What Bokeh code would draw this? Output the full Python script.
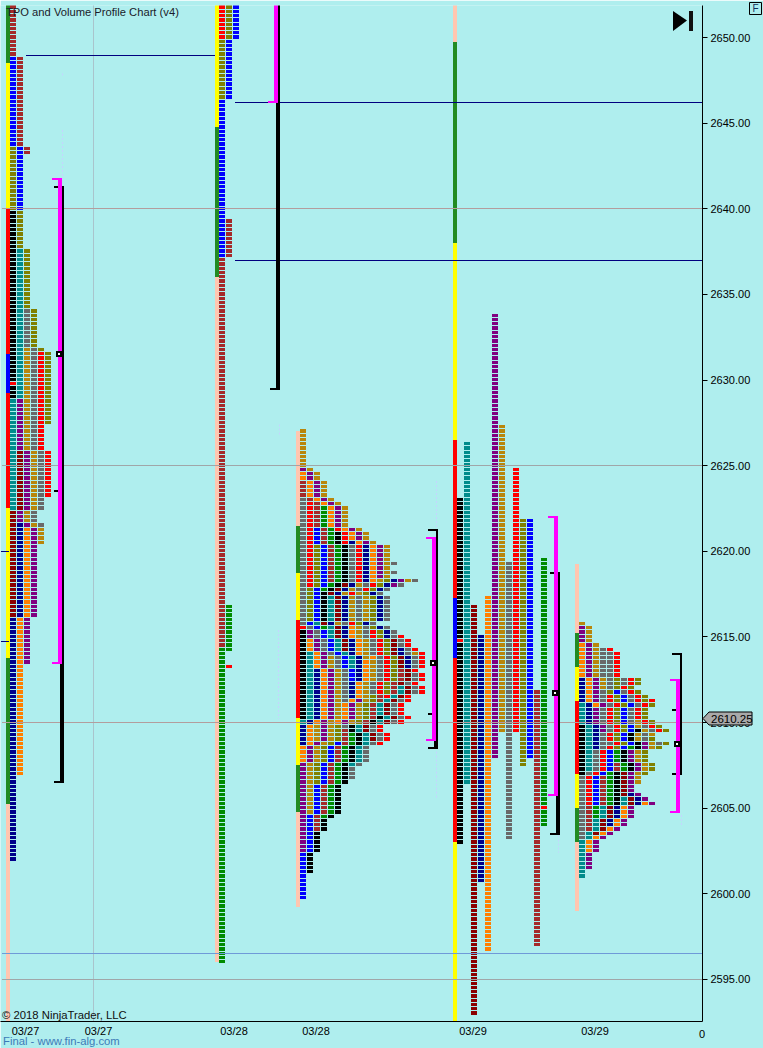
from bokeh.plotting import figure
from bokeh.layouts import column
from bokeh.models import (Range1d, FixedTicker, NumeralTickFormatter, Label)
from bokeh.embed import file_html
from bokeh.resources import INLINE

BG = "#afeeee"
COL = dict(p="#800080", g="#b8860b", o="#ff7f00", b="#a52a2a", y="#696969", r="#ff0000", B="#0000ff",
           n="#00008b", v="#808000", k="#000000", t="#008b8b", d="#8b0000", G="#008b00",
           P="#ffc6b0", F="#228b22", Y="#ffff00")
TICK = 0.25

# opening-range bars: (colour, high, low)
BAR_1 = [("F", 2652.5, 2648.5), ("Y", 2648.5, 2640), ("r", 2640, 2631.5), ("B", 2631.5, 2629.25), ("r", 2629.25, 2622.5),
         ("Y", 2622.5, 2613.75), ("F", 2613.75, 2605.25), ("P", 2605.25, 2590)]
BAR_2 = [("Y", 2652.5, 2644.75), ("F", 2644.75, 2636), ("P", 2636, 2596)]
BAR_3 = [("P", 2627, 2621.5), ("F", 2621.5, 2618.75), ("Y", 2618.75, 2616), ("r", 2616, 2610.25), ("Y", 2610.25, 2607.5),
         ("F", 2607.5, 2604.75), ("P", 2604.75, 2599.25)]
BAR_4 = [("P", 2652.5, 2649.75), ("F", 2649.75, 2638), ("Y", 2638, 2626.5), ("r", 2626.5, 2617.25), ("B", 2617.25, 2613.75),
         ("r", 2613.75, 2603), ("Y", 2603, 2590)]
BAR_5 = [("P", 2619.25, 2615.25), ("F", 2615.25, 2613.25), ("Y", 2613.25, 2611.25), ("r", 2611.25, 2607), ("Y", 2607, 2605),
         ("F", 2605, 2603), ("P", 2603, 2599)]

# tall profiles: per column, runs of (letter, high price, low price)
COLS_1 = [
    [("b", 2651.75, 2649), ("B", 2648.75, 2643.75), ("v", 2643.5, 2640), ("k", 2639.75, 2630), ("r", 2629.75, 2629.75),
     ("k", 2629.5, 2629), ("t", 2628.75, 2622.5), ("d", 2622.25, 2616.25), ("n", 2616, 2602)],
    [("b", 2648.75, 2643.75), ("B", 2643.5, 2640), ("v", 2639.75, 2637.75), ("t", 2637.5, 2629), ("p", 2628.75, 2626),
     ("d", 2625.75, 2622.5), ("p", 2622.25, 2621.75), ("n", 2621.5, 2616.25), ("o", 2616, 2607)],
    [("b", 2643.5, 2643.25), ("v", 2637.5, 2634.25), ("y", 2634, 2632), ("g", 2631.75, 2626), ("p", 2625.75, 2622.5),
     ("g", 2622.25, 2621.75), ("p", 2621.5, 2621.5), ("o", 2621.25, 2616.25), ("p", 2616, 2613.5)],
    [("v", 2634, 2632), ("y", 2631.75, 2626), ("g", 2625.75, 2622.5), ("y", 2622.25, 2621.75), ("g", 2621.5, 2621.5),
     ("p", 2621.25, 2616.25)],
    [("v", 2631.75, 2631.75), ("r", 2631.5, 2626), ("y", 2625.75, 2622.5), ("y", 2621.5, 2621.5), ("g", 2621.25, 2620.5)],
    [("v", 2631.5, 2627.5), ("r", 2625.75, 2623.25)],
]
COLS_2 = [
    [("r", 2651.75, 2650), ("v", 2649.75, 2646.5), ("B", 2646.25, 2637.25), ("b", 2637, 2614.5), ("G", 2614.25, 2596)],
    [("v", 2651.75, 2650), ("B", 2649.75, 2646.5), ("b", 2639.25, 2637.25), ("G", 2616.75, 2614.25), ("r", 2613.25, 2613.25)],
    [("B", 2651.75, 2650)],
]
COLS_4 = [
    [("k", 2623, 2615), ("r", 2614.75, 2614.75), ("k", 2614.5, 2603)],
    [("t", 2626.25, 2606.5)],
    [("d", 2616.75, 2593)],
    [("n", 2615, 2600.75)],
    [("o", 2617.25, 2596.75)],
    [("p", 2633.75, 2608)],
    [("g", 2627.25, 2609.5)],
    [("y", 2619.25, 2603.25)],
    [("r", 2624.75, 2609.5)],
    [("v", 2621.75, 2607.5)],
    [("B", 2621.75, 2608)],
    [("b", 2611.75, 2597)],
    [("G", 2619.5, 2605.25), ("r", 2605, 2605), ("G", 2604.75, 2604)],
]

# dense profiles: one string per price row, one letter per time column
ROWS_3_TOP = 2627.0
ROWS_3 = ["g"] * 9 + ["pg", "opg", "opg"] + ["bopg"] * 4 + ["ybopg", "yrbopg"] + ["yrbGopg"] * 5 + ["yrBbGropg"] + \
    ["yrBbGkropg"] * 2 + ["yrBbGkrnopg"] + \
    ["yrvBbGkyrnopg"] * 4 + ["yrvBbGkyrnopgy", "yrvBbGkyrnopg", "yrvBbGkyrnopgy", "yrvBbGkyrnopg"] + \
    ["yrvBbGkyrnogvnpgy", "yrvBGkdngyrvnpy", "yvBGkdngyrvny", "yvBkdngrgvny"] + ["yvBktdngygvny"] * 6 + \
    ["yBtdngyrvny", "ryBGtdnogyvny", "kpyBtdnogyrvny", "kpyBtdnogyrvnyr", "kopyBtdnogyrvdyr", "kopyBtdnogyrvdyr",
     "kopyBtdnogyrvdnyr", "ktopyBtnogyrvdnygr", "ktopgyBtngoyrvdnyr", "ktopgyBtnogyrvdnyr", "ktopgyBtnogyrvdnyr",
     "ktnopgyBnogyrvbdr", "ktnopgyBnogyrvbdyr", "ktnopgyBnogyrvbdyr", "ktnopgynogyrvbdyr", "ktnopgynogyrvbtdyr",
     "ktnopgynogyrvbtdyr", "ktnopgynogvbrtdr", "ktnopgyopgvbtdyr", "ktnopgopgvbtdyr", "ktnopgopgvbtdyr",
     "ktnopgopgvbtdyr", "ktnopgopgvbktdyr", "tnopgopgvbktdyr", "nogpgvyktdyr", "nogpgvbktdyr", "nogpgvbGktdyr",
     "nogpgvbGktdyr", "nopgvBbGktyr"] + ["opgvBbGkty"] * 4 + ["pgvBbGkty"] + ["pgvBbGky"] * 3 + ["pgvBbGk"] + \
    ["pgBbGk"] * 7 + ["pBbGk"] + ["pBbk"] * 3 + ["pBk"] * 5 + ["Bk"] * 5 + ["B"] * 6

ROWS_5_TOP = 2615.75
ROWS_5 = ["g"] + ["pg"] * 4 + ["opg", "opgyr"] + ["opgyyr"] * 6 + ["nopgyvyrv", "nopgyvyrv", "nopgyvrv", "nopyvByrv",
    "nopyrvByrv", "nopyrvByrvr", "tnopyrvByrv", "tnpyrvByrv", "tnpyrvByrv", "tnpyrvByrv", "tnpyrvBygrv",
    "ktnpyrvBgyrv", "ktnpyrvBkgyrv", "ktnyrvBkgyg", "ktnyrvBkgyv", "ktnyyrvBkpgyv", "ktnyrvBGkpgv",
    "ktyrBGkpgv", "ktyrBGkpgv", "ktyrBGkpgv", "ktyrBbGkpgv", "ktyrBbGkpgv", "kyrBGkdpgv", "yrBbGkdpg", "yrBbGkdpg",
    "yrBbGkdp", "yrBbGkdp", "yrBbGkdnp", "yrBbGktdnp", "yrBbGktdnop", "ybGtdnop", "ybGtdnop", "ybGtdnop",
    "ybtdnop", "ybtdnop", "ybtdop", "ytdop", "ytop", "top", "top", "top", "tp", "tp", "tp", "tp", "t", "t"]

# left pixel-like time position of each profile's bar
X_1, X_2, X_3, X_4, X_5 = 6, 215, 296, 453, 575
BAR_W, COL_W, COL_STEP = 4, 6, 7

# value-area / range markers: x of bar, magenta hi/lo, black hi/lo, point-of-control, extra tick
RANGES = [
    dict(x=58, m=(2641.75, 2613.5), k=(2641.25, 2606.5), poc=2631.5, tick=2623.5, wide=2613.5),
    dict(x=274, m=(2653, 2646.25), k=(2653, 2629.5), poc=None, tick=None, wide=2646.25),
    dict(x=432, m=(2620.75, 2609), k=(2621.25, 2608.5), poc=2613.5, tick=2610.5, wide=2609),
    dict(x=554, m=(2622, 2605.75), k=(2618.75, 2603.5), poc=2611.75, tick=None, wide=2605.75),
    dict(x=676, m=(2612.5, 2604.75), k=(2614, 2607), poc=2608.75, tick=2610.75, wide=2612.5),
]
FAINT = [(62, 2647.9, 2647.7), (62, 2644.6, 2641.7), (279, 2627.4, 2626.8), (278, 2615.4, 2610.2), (436, 2624.1, 2621.25),
         (436, 2608.3, 2605.5), (558, 2603.4, 2602.4), (681, 2614.1, 2612.5), (681, 2604.6, 2603.9)]
GRID_RED = [2640, 2610]
GRID_GRAY = [2625, 2595]
LEVEL_LIGHT = 2596.5
LEVELS = [(26, 215, 2649), (235, 702, 2646.25), (235, 702, 2637)]
LEFT_TICKS = [2620, 2614.75]
Y_TICKS = [2595, 2600, 2605, 2610, 2615, 2620, 2625, 2630, 2635, 2640, 2645, 2650]
X_TICKS = [25.5, 98.5, 234, 316, 473, 595]
X_LABELS = ["03/27", "03/27", "03/28", "03/28", "03/29", "03/29"]
LAST_PRICE = 2610.25

# price <-> canvas row
ORIGIN, SCALE = 37.5, 17.125
def py(price):
    return ORIGIN + (2650 - price) * SCALE
def at(row):
    return 2650 - (row - ORIGIN) / SCALE

p = figure(width=763, height=1048, output_backend="svg", toolbar_location=None, y_axis_location="right",
           x_range=Range1d(0.5, 702.5), y_range=Range1d(at(1021.5), at(5.5)),
           min_border_left=0, min_border_right=61, min_border_top=5, min_border_bottom=27,
           background_fill_color=BG, border_fill_color=BG, outline_line_color=None,
           margin=(0, 0, 0, 0), frame_align=False)
p.grid.visible = False

yax = p.yaxis[0]
yax.ticker = FixedTicker(ticks=Y_TICKS)
yax.formatter = NumeralTickFormatter(format="0.00")
yax.major_tick_out = 5
yax.major_tick_in = 0
yax.minor_tick_out = 0
yax.minor_tick_in = 0
yax.major_label_text_font = "Liberation Sans"
yax.major_label_text_font_size = "11px"
yax.major_label_text_color = "#000000"
yax.major_label_standoff = 3
yax.axis_line_color = "#000000"
yax.major_tick_line_color = "#000000"

xax = p.xaxis[0]
xax.ticker = FixedTicker(ticks=X_TICKS)
xax.major_label_overrides = {t: s for t, s in zip(X_TICKS, X_LABELS)}
xax.major_tick_out = 0
xax.major_tick_in = 0
xax.minor_tick_out = 0
xax.minor_tick_in = 0
xax.major_label_text_font = "Liberation Sans"
xax.major_label_text_font_size = "11px"
xax.major_label_text_color = "#000000"
xax.major_label_standoff = 3
xax.axis_line_color = "#000000"

# background levels
p.segment(x0=[93.5], x1=[93.5], y0=[at(5)], y1=[at(1021)], line_color="#a9c4cc", line_width=1)

cells = dict(left=[], right=[], top=[], bottom=[], color=[])
def cell(x, price, letter):
    c = py(price)
    cells["left"].append(x)
    cells["right"].append(x + COL_W)
    cells["top"].append(at(round(c - 2.14)))
    cells["bottom"].append(at(round(c + 2.14) - 1))
    cells["color"].append(COL[letter])

def add_cols(x0, cols):
    for i, runs in enumerate(cols):
        for letter, hi, lo in runs:
            n = int(round((hi - lo) / TICK))
            for j in range(n + 1):
                cell(x0 + i * COL_STEP, hi - j * TICK, letter)

def add_rows(x0, top, rows):
    for j, row in enumerate(rows):
        for i, letter in enumerate(row):
            cell(x0 + i * COL_STEP, top - j * TICK, letter)

add_cols(X_1 + BAR_W, COLS_1)
add_cols(X_2 + BAR_W, COLS_2)
add_cols(X_4 + BAR_W, COLS_4)
add_rows(X_3 + BAR_W, ROWS_3_TOP, ROWS_3)
add_rows(X_5 + BAR_W, ROWS_5_TOP, ROWS_5)

bars = dict(left=[], right=[], top=[], bottom=[], color=[])
for x0, segs in [(X_1, BAR_1), (X_2, BAR_2), (X_3, BAR_3), (X_4, BAR_4), (X_5, BAR_5)]:
    for letter, hi, lo in segs:
        bars["left"].append(x0)
        bars["right"].append(x0 + BAR_W)
        bars["top"].append(at(round(py(hi))))
        bars["bottom"].append(at(round(py(lo))))
        bars["color"].append(COL[letter])
p.quad(source=bars, left="left", right="right", top="top", bottom="bottom", fill_color="color", line_color=None)
p.quad(source=cells, left="left", right="right", top="top", bottom="bottom", fill_color="color", line_color=None)

# level lines drawn above the cells
def line_row(price):
    return at(int(py(price)) + 0.5)
for prices, colour in [(GRID_RED, "#b39d9d"), (GRID_GRAY, "#a0a6a8")]:
    ys = [line_row(v) for v in prices]
    p.segment(x0=[2] * len(ys), x1=[702] * len(ys), y0=ys, y1=ys, line_color=colour, line_width=1)
ly = line_row(LEVEL_LIGHT)
p.segment(x0=[2], x1=[702], y0=[ly], y1=[ly], line_color="#6f9ad8", line_width=1)
ys = [at(round(py(v[2])) + 0.5) for v in LEVELS]
p.segment(x0=[v[0] for v in LEVELS], x1=[v[1] for v in LEVELS], y0=ys, y1=ys, line_color="#00007f", line_width=1)
ys = [line_row(v) for v in LEFT_TICKS]
p.segment(x0=[1] * 2, x1=[9] * 2, y0=ys, y1=ys, line_color="#00007f", line_width=1)
p.segment(x0=[f[0] + 0.5 for f in FAINT], x1=[f[0] + 0.5 for f in FAINT], y0=[f[1] for f in FAINT], y1=[f[2] for f in FAINT],
          line_color="#c4d4ff", line_width=1, line_dash="2 2")

# range markers
def box(l, r, hi_row, lo_row, colour):
    p.quad(left=[l], right=[r], top=[at(hi_row)], bottom=[at(lo_row)], fill_color=colour, line_color=None)

for R in RANGES:
    x = R["x"]
    mh, ml = [round(py(v)) for v in R["m"]]
    kh, kl = [round(py(v)) for v in R["k"]]
    wide = round(py(R["wide"]))
    box(x + 4, x + 6, kh, kl, "#000000")
    box(x + 2, x + 6, wide, kl, "#000000")
    box(x - 4, x + 6, kh - 1, kh + 1, "#000000") if kh > 5 else None
    box(x - 4, x + 6, kl - 1, kl + 1, "#000000")
    box(x, x + 4, mh, ml, "#ff00ff")
    box(x - 6, x + 4, mh - 1, mh + 1, "#ff00ff") if mh > 5 else None
    box(x - 6, x + 4, ml - 1, ml + 1, "#ff00ff")
    if R["tick"] is not None:
        t = round(py(R["tick"]))
        box(x - 4, x, t - 1, t + 1, "#000000")
    if R["poc"] is not None:
        c = round(py(R["poc"]))
        box(x - 2, x + 4, c - 3, c + 3, "#000000")
        box(x, x + 2, c - 1, c + 1, "#ffffff")

# skip-to-end icon
p.patch(x=[673, 687, 673], y=[at(11), at(20.5), at(31)], fill_color="#000000", line_color=None)
box(689, 693, 11, 31, "#111111")

# transparent overlay with a frame over the whole canvas, for the items outside the price frame
q = figure(width=763, height=1048, output_backend="svg", toolbar_location=None,
           x_axis_location=None, y_axis_location=None,
           x_range=Range1d(0.5, 763.5), y_range=Range1d(1048.5, 0.5),
           min_border=0, background_fill_alpha=0, border_fill_alpha=0, outline_line_color=None,
           margin=(-1048, 0, 0, 0), frame_align=False)
q.grid.visible = False

def txt(x, row, s, size="11px", color="#000000", align="left"):
    q.add_layout(Label(x=x, y=row, text=s, text_font="Liberation Sans",
                       text_font_size=size, text_color=color, text_align=align, text_baseline="middle"))

txt(6, 12, "TPO and Volume Profile Chart (v4)", "11.2px", "#1a1a2a")
txt(2, 1015, "\u00a9 2018 NinjaTrader, LLC", "11.3px", "#101010")
txt(3, 1041, "Final - www.fin-alg.com", "11.3px", "#3c7ab8")
txt(699, 1034, "0", "11px")

# last price tag on the axis and the F box
tag = [(703, 718.5), (709, 712), (752, 712), (752, 725), (709, 725)]
q.patch(x=[v[0] for v in tag], y=[v[1] for v in tag], fill_color="#a9a9a9", line_color="#000000", line_width=1)
txt(711, py(LAST_PRICE) + 0.5, f"{LAST_PRICE:.2f}", "11.5px")
fbox = [(749.5, 2.5), (761.5, 2.5), (761.5, 14.5), (749.5, 14.5)]
q.patch(x=[v[0] for v in fbox], y=[v[1] for v in fbox], fill_color=BG, line_color="#000000", line_width=1)
txt(755.5, 8.5, "F", "10px", "#10305a", "center")

layout = column(p, q, spacing=0, margin=(0, 0, 0, 0))
open("out.html", "w").write(file_html(layout, INLINE))
